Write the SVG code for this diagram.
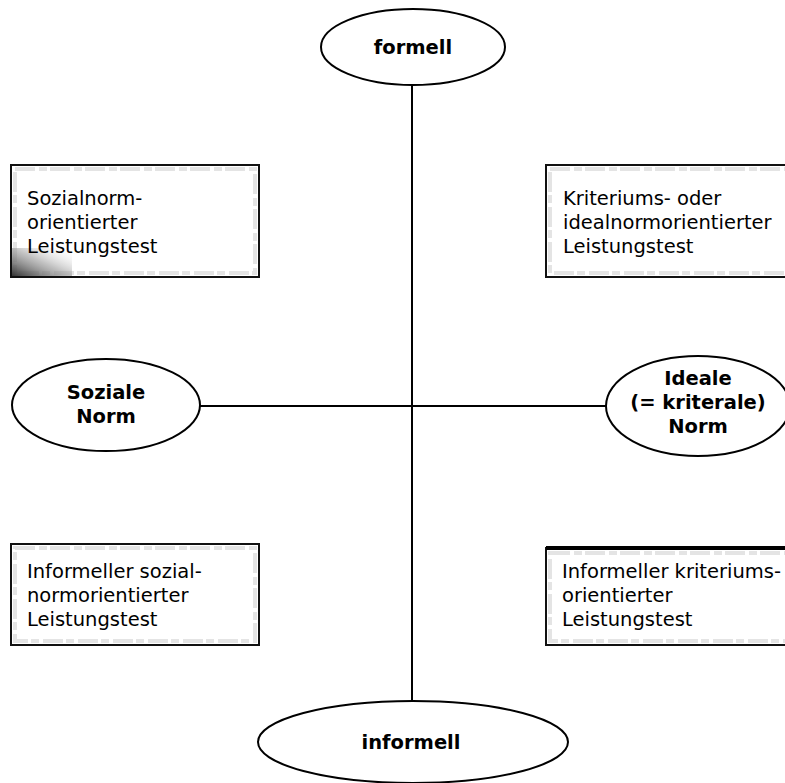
<svg xmlns="http://www.w3.org/2000/svg" width="785" height="783" viewBox="0 0 785 783">
<defs>
<style>
.ell{fill:#fff;stroke:#000;stroke-width:2}
.ln{stroke:#000;stroke-width:2;fill:none}
.box{fill:#fff;stroke:#111;stroke-width:2}
.inner{fill:none;stroke:#e4e4e4;stroke-width:4;stroke-dasharray:20 4 8 3}
.lbl{font-family:"DejaVu Sans",sans-serif;font-weight:bold;font-size:19.5px;fill:#000;text-anchor:middle}
.txt{font-family:"DejaVu Sans",sans-serif;font-size:19.5px;fill:#000}
</style>
<linearGradient id="shade" x1="0" y1="1" x2="1" y2="0">
<stop offset="0" stop-color="#333"/>
<stop offset="0.5" stop-color="#999" stop-opacity="0.6"/>
<stop offset="1" stop-color="#fff" stop-opacity="0"/>
</linearGradient>
</defs>
<g id="connectors">
<line class="ln" x1="412" y1="84" x2="412" y2="701"/>
<line class="ln" x1="200" y1="406" x2="606" y2="406"/>
</g>
<g id="formell">
<ellipse class="ell" cx="413" cy="47" rx="92" ry="38"/>
<text class="lbl" x="413" y="54">formell</text>
</g>
<g id="informell">
<ellipse class="ell" cx="413" cy="742" rx="155" ry="41"/>
<text class="lbl" x="411" y="749">informell</text>
</g>
<g id="soziale-norm">
<ellipse class="ell" cx="106" cy="405" rx="94" ry="46"/>
<text class="lbl" x="106" y="399">Soziale</text>
<text class="lbl" x="106" y="423">Norm</text>
</g>
<g id="ideale-norm">
<ellipse class="ell" cx="698" cy="406" rx="92" ry="50"/>
<text class="lbl" x="698" y="385">Ideale</text>
<text class="lbl" x="698" y="409">(= kriterale)</text>
<text class="lbl" x="698" y="433">Norm</text>
</g>
<g id="box-sozialnorm">
<rect class="box" x="11" y="165" width="248" height="112"/>
<rect class="inner" x="15" y="169" width="240" height="104"/>
<rect x="12" y="248" width="60" height="28" fill="url(#shade)"/>
<text class="txt" x="27" y="205">Sozialnorm-</text>
<text class="txt" x="27" y="229">orientierter</text>
<text class="txt" x="27" y="253">Leistungstest</text>
</g>
<g id="box-kriteriums">
<rect class="box" x="546" y="165" width="245" height="112"/>
<rect class="inner" x="550" y="169" width="240" height="104"/>
<text class="txt" x="563" y="205">Kriteriums- oder</text>
<text class="txt" x="563" y="229">idealnormorientierter</text>
<text class="txt" x="563" y="253">Leistungstest</text>
</g>
<g id="box-informell-sozial">
<rect class="box" x="11" y="544" width="248" height="101"/>
<rect class="inner" x="15" y="548" width="240" height="93"/>
<text class="txt" x="27" y="578">Informeller sozial-</text>
<text class="txt" x="27" y="602">normorientierter</text>
<text class="txt" x="27" y="626">Leistungstest</text>
</g>
<g id="box-informell-kriterium">
<rect class="box" x="546" y="548" width="245" height="97"/>
<line x1="546" y1="548" x2="785" y2="548" stroke="#000" stroke-width="4"/>
<rect class="inner" x="550" y="553" width="240" height="88"/>
<text class="txt" x="562" y="578">Informeller kriteriums-</text>
<text class="txt" x="562" y="602">orientierter</text>
<text class="txt" x="562" y="626">Leistungstest</text>
</g>
</svg>
